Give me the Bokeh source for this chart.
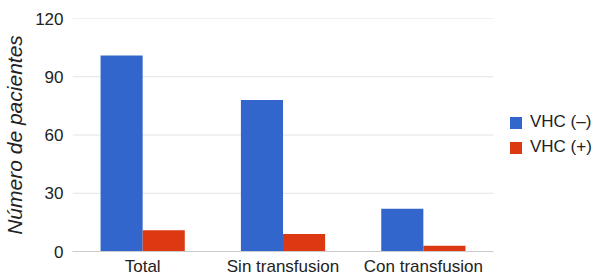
from bokeh.plotting import figure
from bokeh.models import ColumnDataSource, Legend, LegendItem, FixedTicker, Range1d
from bokeh.transform import dodge
from bokeh.embed import file_html
from bokeh.resources import INLINE

categories = ["Total", "Sin transfusion", "Con transfusion"]
vhc_neg = [101, 78, 22]
vhc_pos = [11, 9, 3]
y_ticks = [0, 30, 60, 90, 120]

n = len(categories)
centers = [i + 0.5 for i in range(n)]
src = ColumnDataSource(dict(x=centers, neg=vhc_neg, pos=vhc_pos))

# plot frame spans the category area plus room on the right for the legend
p = figure(x_range=Range1d(0, 3.748), y_range=Range1d(0, 120),
           width=598, height=278, output_backend="svg", toolbar_location=None,
           min_border_left=72, min_border_right=0, min_border_top=18, min_border_bottom=27)
p.outline_line_color = None

# horizontal gridlines only across the category area
p.ygrid.grid_line_color = None
p.xgrid.grid_line_color = None
p.segment(x0=[0] * len(y_ticks[1:]), x1=[n] * len(y_ticks[1:]), y0=y_ticks[1:], y1=y_ticks[1:],
          line_color="#e3e3e3", line_width=1)

r1 = p.vbar(x=dodge("x", -0.15), top="neg", width=0.3, source=src,
            fill_color="#3366CC", line_color=None)
r2 = p.vbar(x=dodge("x", 0.15), top="pos", width=0.3, source=src,
            fill_color="#DC3912", line_color=None)

font = "Liberation Sans"
for ax in (p.xaxis, p.yaxis):
    ax.major_tick_out = 0
    ax.major_tick_in = 0
    ax.minor_tick_out = 0
    ax.minor_tick_in = 0
    ax.major_tick_line_color = None
    ax.minor_tick_line_color = None
    ax.major_label_text_font = font
    ax.major_label_text_font_size = "17px"
    ax.major_label_text_color = "#222222"

p.yaxis.ticker = FixedTicker(ticks=y_ticks)
p.yaxis.axis_line_color = None
p.yaxis.major_label_standoff = 9
p.yaxis.axis_label = "Número de pacientes"
p.yaxis.axis_label_text_font = font
p.yaxis.axis_label_text_font_style = "italic"
p.yaxis.axis_label_text_font_size = "21px"
p.yaxis.axis_label_text_color = "#222222"
p.yaxis.axis_label_standoff = 6

p.xaxis.ticker = FixedTicker(ticks=centers)
p.xaxis.major_label_overrides = {c: lab for c, lab in zip(centers, categories)}
p.xaxis.bounds = (0, n)
p.xaxis.axis_line_color = "#cccccc"
p.xaxis.major_label_standoff = 5

legend = Legend(items=[LegendItem(label="VHC (–)", renderers=[r1]),
                       LegendItem(label="VHC (+)", renderers=[r2])],
                location=(436, 94), orientation="vertical",
                glyph_width=15, glyph_height=15, label_height=15, spacing=5,
                label_standoff=7, padding=0, margin=0,
                border_line_color=None, background_fill_alpha=0,
                label_text_font=font, label_text_font_size="17px",
                label_text_color="#222222")
p.add_layout(legend, "center")

open("out.html", "w").write(file_html(p, INLINE))
